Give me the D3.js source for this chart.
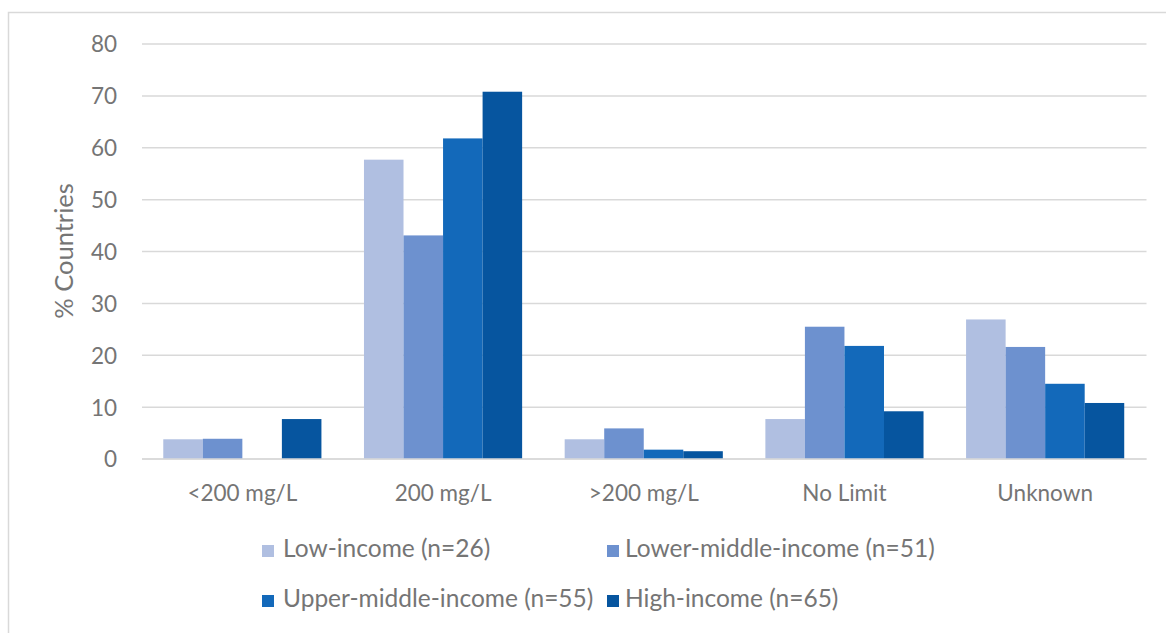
<!DOCTYPE html>
<html><head><meta charset="utf-8">
<script src="https://cdn.jsdelivr.net/npm/d3@7"></script>
<style>body{margin:0;background:#fff}svg{display:block}</style>
</head><body>
<script>
const categories = ["<200 mg/L", "200 mg/L", ">200 mg/L", "No Limit", "Unknown"];
const seriesNames = ["Low-income (n=26)", "Lower-middle-income (n=51)", "Upper-middle-income (n=55)", "High-income (n=65)"];
const lowIncome = [3.8, 57.7, 3.8, 7.7, 26.9];
const lowerMiddle = [3.9, 43.1, 5.9, 25.5, 21.6];
const upperMiddle = [0, 61.8, 1.8, 21.8, 14.5];
const highIncome = [7.7, 70.8, 1.5, 9.2, 10.8];
const yTicks = [0, 10, 20, 30, 40, 50, 60, 70, 80];
const colors = ["#B0BFE1", "#6D91CF", "#1369BA", "#06559F"];

const series = [lowIncome, lowerMiddle, upperMiddle, highIncome];
const W = 1166, H = 633;
const font = "Lato, 'Open Sans', sans-serif";
const fs = 22.5;
const legendFs = 24.5;
const textColor = "#757575";
const svg = d3.select("body").append("svg").attr("width", W).attr("height", H);

// outer frame
svg.append("path").attr("d", `M8.5,${H} V12.5 H${W}`).attr("fill", "none").attr("stroke", "#D9D9D9").attr("stroke-width", 1.5);

const x0 = d3.scaleBand().domain(categories).range([142, 1145.5]).paddingInner(0.212).paddingOuter(0.106);
const x1 = d3.scaleBand().domain(d3.range(4)).range([0, x0.bandwidth()]);
const y = d3.scaleLinear().domain([0, 80]).range([459, 44]);

// gridlines
svg.append("g").selectAll("line").data(yTicks).join("line")
  .attr("x1", 142).attr("x2", 1146.5)
  .attr("y1", d => y(d)).attr("y2", d => y(d))
  .attr("stroke", "#D9D9D9").attr("stroke-width", 1.5);

// y axis labels
const yAxis = d3.axisLeft(y).tickValues(yTicks).tickSize(0).tickPadding(0);
const gy = svg.append("g").attr("transform", "translate(117,0)").call(yAxis);
gy.select(".domain").remove();
gy.selectAll("text").attr("font-family", font).attr("font-size", fs).attr("fill", textColor).attr("dy", "0.35em");

svg.append("text").attr("transform", "translate(73,251) rotate(-90)")
  .attr("text-anchor", "middle").attr("font-family", font).attr("font-size", 25.5).attr("fill", textColor)
  .text("% Countries");

// bars
const groups = svg.append("g").selectAll("g").data(categories).join("g")
  .attr("transform", d => `translate(${x0(d)},0)`);
groups.selectAll("rect").data((c, ci) => series.map((s, si) => ({si, v: s[ci]}))).join("rect")
  .attr("x", d => x1(d.si)).attr("width", x1.bandwidth())
  .attr("y", d => y(d.v)).attr("height", d => y(0) - y(d.v))
  .attr("fill", d => colors[d.si]);

// baseline
svg.append("line").attr("x1", 142).attr("x2", 1146.5).attr("y1", y(0)).attr("y2", y(0))
  .attr("stroke", "#D9D9D9").attr("stroke-width", 1.5);

// x axis labels
const xAxis = d3.axisBottom(x0).tickSize(0).tickPadding(0);
const gx = svg.append("g").attr("transform", `translate(0,${y(0)+36})`).call(xAxis);
gx.select(".domain").remove();
gx.selectAll("text").attr("font-family", font).attr("font-size", fs).attr("fill", textColor).attr("dy", 0).attr("dominant-baseline", "middle");

// legend
const legendPos = [[262, 551], [607, 551], [262, 601], [607, 601]];
const lg = svg.append("g").selectAll("g").data(seriesNames).join("g")
  .attr("transform", (d, i) => `translate(${legendPos[i][0]},${legendPos[i][1]})`);
lg.append("rect").attr("x", 0).attr("y", -6).attr("width", 12).attr("height", 12).attr("fill", (d, i) => colors[i]);
lg.append("text").attr("x", (d, i) => i % 2 ? 18 : 21).attr("y", 0).attr("dominant-baseline", "middle")
  .attr("font-family", font).attr("font-size", legendFs).attr("fill", textColor).text(d => d);
</script>
</body></html>
